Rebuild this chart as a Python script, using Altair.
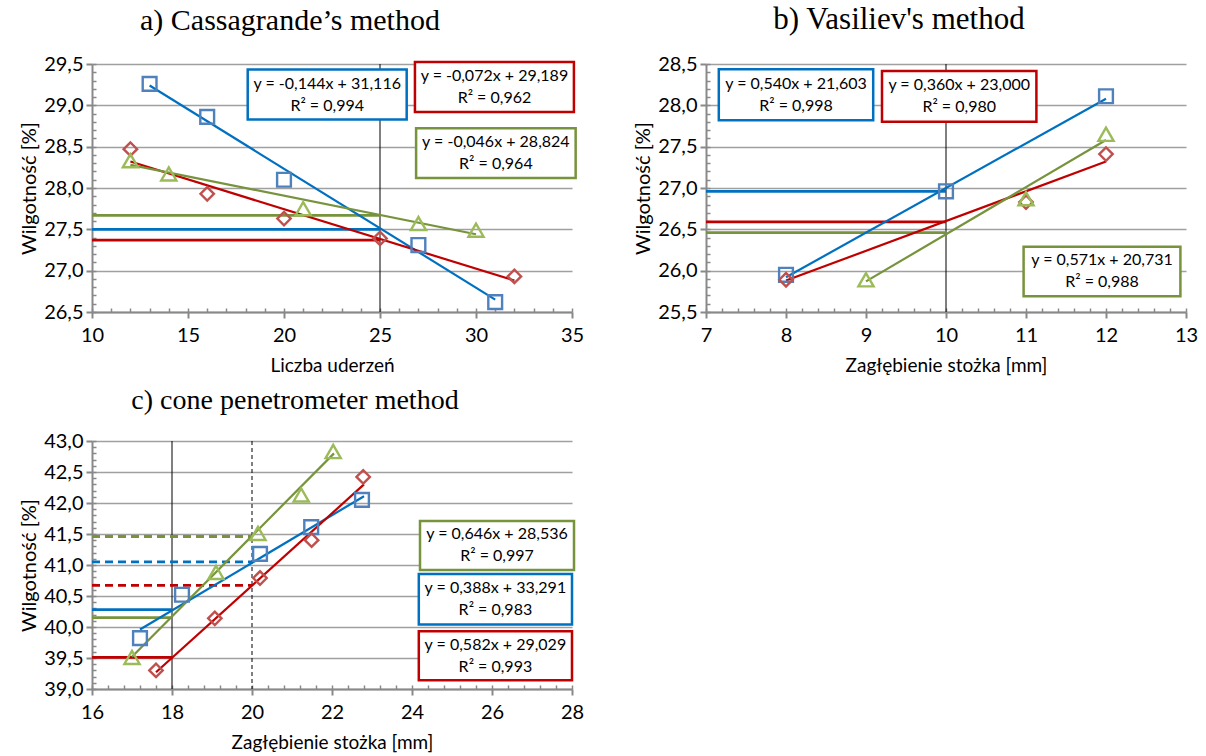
import altair as alt
import pandas as pd

FONT = "Lato"
SERIF = "Liberation Serif"
AXIS_GRAY = "#898989"
GRID_GRAY = "#A0A0A0"
ORDER = ["blue", "red", "green"]
LINE_COLOR = {"blue": "#0070C0", "red": "#C00000", "green": "#77933C"}
MARK_COLOR = {"blue": "#4F81BD", "red": "#C0504D", "green": "#9BBB59"}
SHAPE = {"blue": "square", "red": "diamond", "green": "triangle-up"}
MSIZE = {"blue": 190, "red": 180, "green": 230}

# ---------------- panel a: Cassagrande ----------------
a_x = {"blue": [13, 16, 20, 27, 31], "red": [12, 16, 20, 25, 32], "green": [12, 14, 21, 27, 30]}
a_y = {"blue": [29.26, 28.86, 28.10, 27.31, 26.62],
       "red": [28.47, 27.93, 27.63, 27.39, 26.93],
       "green": [28.33, 28.17, 27.75, 27.57, 27.49]}
a_trend_x = {"blue": [13, 31], "red": [12, 32], "green": [12, 30]}
a_trend_y = {"blue": [29.24, 26.65], "red": [28.32, 26.88], "green": [28.28, 27.44]}
a_level = {"blue": 27.50, "red": 27.37, "green": 27.67}
a_level_x = [10, 25]
a_vline = [25]
a_eq1 = {"blue": "y =  -0,144x + 31,116", "red": "y = -0,072x + 29,189", "green": "y = -0,046x + 28,824"}
a_eq2 = {"blue": "R² = 0,994", "red": "R² = 0,962", "green": "R² = 0,964"}
a_box = {"blue": [18.11, 26.39, 29.433, 28.829],
         "red": [26.82, 35.10, 29.524, 28.919],
         "green": [26.88, 35.19, 28.722, 28.121]}

# ---------------- panel b: Vasiliev ----------------
b_x = {"blue": [8, 10, 12], "red": [8, 11, 12], "green": [9, 11, 12]}
b_y = {"blue": [25.95, 26.96, 28.11], "red": [25.89, 26.83, 27.41], "green": [25.89, 26.87, 27.65]}
b_trend_x = {"blue": [8, 12], "red": [8, 12], "green": [9, 12]}
b_trend_y = {"blue": [25.92, 28.08], "red": [25.88, 27.32], "green": [25.87, 27.58]}
b_level = {"blue": 26.96, "red": 26.59, "green": 26.46}
b_level_x = [7, 10]
b_vline = [10]
b_eq1 = {"blue": "y = 0,540x + 21,603", "red": "y = 0,360x + 23,000", "green": "y = 0,571x + 20,731"}
b_eq2 = {"blue": "R² = 0,998", "red": "R² = 0,980", "green": "R² = 0,988"}
b_box = {"blue": [7.16, 9.09, 28.436, 27.819],
         "red": [9.20, 11.13, 28.415, 27.802],
         "green": [10.97, 12.93, 26.29, 25.69]}

# ---------------- panel c: cone penetrometer ----------------
c_x = {"blue": [17.2, 18.25, 20.2, 21.48, 22.75],
       "red": [17.6, 19.07, 20.2, 21.49, 22.78],
       "green": [17.0, 19.1, 20.15, 21.23, 22.03]}
c_y = {"blue": [39.82, 40.52, 41.18, 41.61, 42.05],
       "red": [39.30, 40.14, 40.79, 41.40, 42.42],
       "green": [39.51, 40.88, 41.51, 42.13, 42.83]}
c_trend_x = {"blue": [17.2, 22.8], "red": [17.6, 22.8], "green": [17.0, 22.05]}
c_trend_y = {"blue": [39.96, 42.11], "red": [39.27, 42.30], "green": [39.52, 42.80]}
c_level_solid = {"blue": 40.28, "red": 39.51, "green": 40.15}
c_level_solid_x = [16, 18]
c_level_dash = {"blue": 41.05, "red": 40.67, "green": 41.46}
c_level_dash_x = [16, 20]
c_vline_solid = [18]
c_vline_dash = [20]
c_eq1 = {"green": "y = 0,646x + 28,536", "blue": "y = 0,388x + 33,291", "red": "y = 0,582x + 29,029"}
c_eq2 = {"green": "R² = 0,997", "blue": "R² = 0,983", "red": "R² = 0,993"}
c_box = {"green": [24.20, 28.05, 41.71, 40.92],
         "blue": [24.17, 28.00, 40.855, 40.04],
         "red": [24.17, 28.00, 39.93, 39.14]}


def pts_df(xd, yd):
    return pd.DataFrame([{"s": s, "x": x, "y": y} for s in ORDER for x, y in zip(xd[s], yd[s])])


def levels_df(spec):
    rows = []
    for lv, xr, dash in spec:
        for s in ORDER:
            rows.append({"s": s, "x": xr[0], "x2": xr[1], "y": lv[s], "dash": dash})
    return pd.DataFrame(rows)


def vlines_df(spec):
    return pd.DataFrame([{"x": v, "dash": dash} for vals, dash in spec for v in vals])


def boxes_df(box, eq1, eq2):
    return pd.DataFrame([{"s": s, "x": b[0], "x2": b[1], "y": b[2], "y2": b[3],
                          "t1": eq1[s], "t2": eq2[s]} for s, b in box.items()])


def comma_label(dec):
    return f"replace(format(datum.value, '.{dec}f'), '.', ',')"


def panel(title, tsize, tdx, xtitle, xdom, xmaj, xminor, ydom, ymaj, yminor,
          pts, trend, levels, vlines, boxes):
    xs = alt.Scale(domain=xdom, nice=False, zero=False)
    ys = alt.Scale(domain=ydom, nice=False, zero=False)

    def X(f="x"):
        return alt.X(f"{f}:Q", scale=xs, axis=None)

    def Y(f="y"):
        return alt.Y(f"{f}:Q", scale=ys, axis=None)

    layers = []
    layers.append(alt.Chart(pts).mark_point(opacity=0).encode(
        x=alt.X("x:Q", scale=xs, axis=alt.Axis(
            orient="bottom", values=xmaj, title=xtitle, grid=False, labelFlush=False,
            domainColor=AXIS_GRAY, domainWidth=2, tickColor=AXIS_GRAY, tickWidth=2, tickSize=6,
            labelFont=FONT, labelFontSize=20, labelColor="black", labelPadding=7,
            titleFont=FONT, titleFontSize=19, titleFontWeight="normal", titleColor="black",
            titlePadding=11, format="d")),
        y=alt.Y("y:Q", scale=ys, axis=alt.Axis(
            orient="left", values=ymaj, title="Wilgotność [%]", grid=True, gridColor=GRID_GRAY,
            gridWidth=1.5, labelFlush=False, domainColor=AXIS_GRAY, domainWidth=2,
            tickColor=AXIS_GRAY, tickWidth=2, tickSize=6, labelFont=FONT, labelFontSize=20,
            labelColor="black", labelPadding=3, labelExpr=comma_label(1),
            titleFont=FONT, titleFontSize=20, titleFontWeight="normal", titleColor="black",
            titlePadding=4)),
    ))
    layers.append(alt.Chart(pts).mark_point(opacity=0).encode(
        x=alt.X("x:Q", scale=xs, axis=alt.Axis(
            orient="bottom", values=xminor, labels=False, domain=False, grid=False,
            tickSize=4, offset=-4, tickColor=AXIS_GRAY, tickWidth=1.5, title=None)),
        y=alt.Y("y:Q", scale=ys, axis=alt.Axis(
            orient="left", values=yminor, labels=False, domain=False, grid=False,
            tickSize=4, offset=-4, tickColor=AXIS_GRAY, tickWidth=1.5, title=None)),
    ))
    # vertical reference lines
    for dash in (False, True):
        kw = {"strokeDash": [4, 3]} if dash else {}
        layers.append(alt.Chart(vlines).transform_filter(
            f"datum.dash == {str(dash).lower()}").mark_rule(color="black", strokeWidth=1, **kw).encode(x=X()))
    # horizontal level lines
    for s in ORDER:
        for dash in (False, True):
            kw = {"strokeDash": [8, 5]} if dash else {}
            layers.append(alt.Chart(levels).transform_filter(
                f"datum.s == '{s}' && datum.dash == {str(dash).lower()}").mark_rule(
                color=LINE_COLOR[s], strokeWidth=2.8, **kw).encode(
                x=X(), x2="x2:Q", y=Y()))
    # trend lines and markers
    for s in ORDER:
        layers.append(alt.Chart(trend).transform_filter(f"datum.s == '{s}'").mark_line(
            color=LINE_COLOR[s], strokeWidth=2.2).encode(x=X(), y=Y()))
    for s in ORDER:
        layers.append(alt.Chart(pts).transform_filter(f"datum.s == '{s}'").mark_point(
            shape=SHAPE[s], filled=False, size=MSIZE[s], strokeWidth=2.4, opacity=1,
            color=MARK_COLOR[s]).encode(x=X(), y=Y()))
    # equation boxes
    for s in ORDER:
        layers.append(alt.Chart(boxes).transform_filter(f"datum.s == '{s}'").mark_rect(
            fill="white", stroke=LINE_COLOR[s], strokeWidth=2.5, clip=False).encode(
            x=X(), x2="x2:Q", y=Y(), y2="y2:Q"))
    for field, shift in (("t1", -11), ("t2", 11)):
        layers.append(alt.Chart(boxes).transform_calculate(
            cx="(datum.x + datum.x2) / 2", cy="(datum.y + datum.y2) / 2").mark_text(
            font=FONT, fontSize=16, align="center", baseline="middle", dy=shift,
            color="black").encode(
            x=alt.X("cx:Q", scale=xs, axis=None), y=alt.Y("cy:Q", scale=ys, axis=None),
            text=f"{field}:N"))

    return alt.layer(*layers).resolve_axis(x="independent", y="independent").properties(
        width=480, height=248,
        title=alt.TitleParams(title, font=SERIF, fontSize=tsize, fontWeight="normal", color="black",
                              anchor="middle", frame="group", dx=tdx, offset=-6,
                              baseline="alphabetic"))


def steps(lo, hi, step, dec):
    n = int(round((hi - lo) / step))
    return [round(lo + i * step, dec) for i in range(n + 1)]


pa = panel("a) Cassagrande’s method", 30, -42, "Liczba uderzeń",
           [10, 35], steps(10, 35, 5, 0), steps(10, 35, 1, 0),
           [26.5, 29.5], steps(26.5, 29.5, 0.5, 1), steps(26.5, 29.5, 0.1, 1),
           pts_df(a_x, a_y), pts_df(a_trend_x, a_trend_y),
           levels_df([(a_level, a_level_x, False)]), vlines_df([(a_vline, False)]),
           boxes_df(a_box, a_eq1, a_eq2))

pb = panel("b) Vasiliev's method", 31, -47, "Zagłębienie stożka [mm]",
           [7, 13], steps(7, 13, 1, 0), steps(7, 13, 0.2, 1),
           [25.5, 28.5], steps(25.5, 28.5, 0.5, 1), steps(25.5, 28.5, 0.1, 1),
           pts_df(b_x, b_y), pts_df(b_trend_x, b_trend_y),
           levels_df([(b_level, b_level_x, False)]), vlines_df([(b_vline, False)]),
           boxes_df(b_box, b_eq1, b_eq2))

pc = panel("c) cone penetrometer method", 28, -37, "Zagłębienie stożka [mm]",
           [16, 28], steps(16, 28, 2, 0), steps(16, 28, 0.4, 1),
           [39.0, 43.0], steps(39.0, 43.0, 0.5, 1), steps(39.0, 43.0, 0.1, 1),
           pts_df(c_x, c_y), pts_df(c_trend_x, c_trend_y),
           levels_df([(c_level_solid, c_level_solid_x, False), (c_level_dash, c_level_dash_x, True)]),
           vlines_df([(c_vline_solid, False), (c_vline_dash, True)]),
           boxes_df(c_box, c_eq1, c_eq2))

chart = alt.concat(pa, pb, pc, columns=2, spacing={"row": 129, "column": 134},
                   bounds="flush").properties(
    padding={"left": 19, "top": 4, "right": 5, "bottom": 5},
    background="white",
).configure_view(stroke=None)

chart.save("out.html", embed_options={"renderer": "svg", "actions": False})
